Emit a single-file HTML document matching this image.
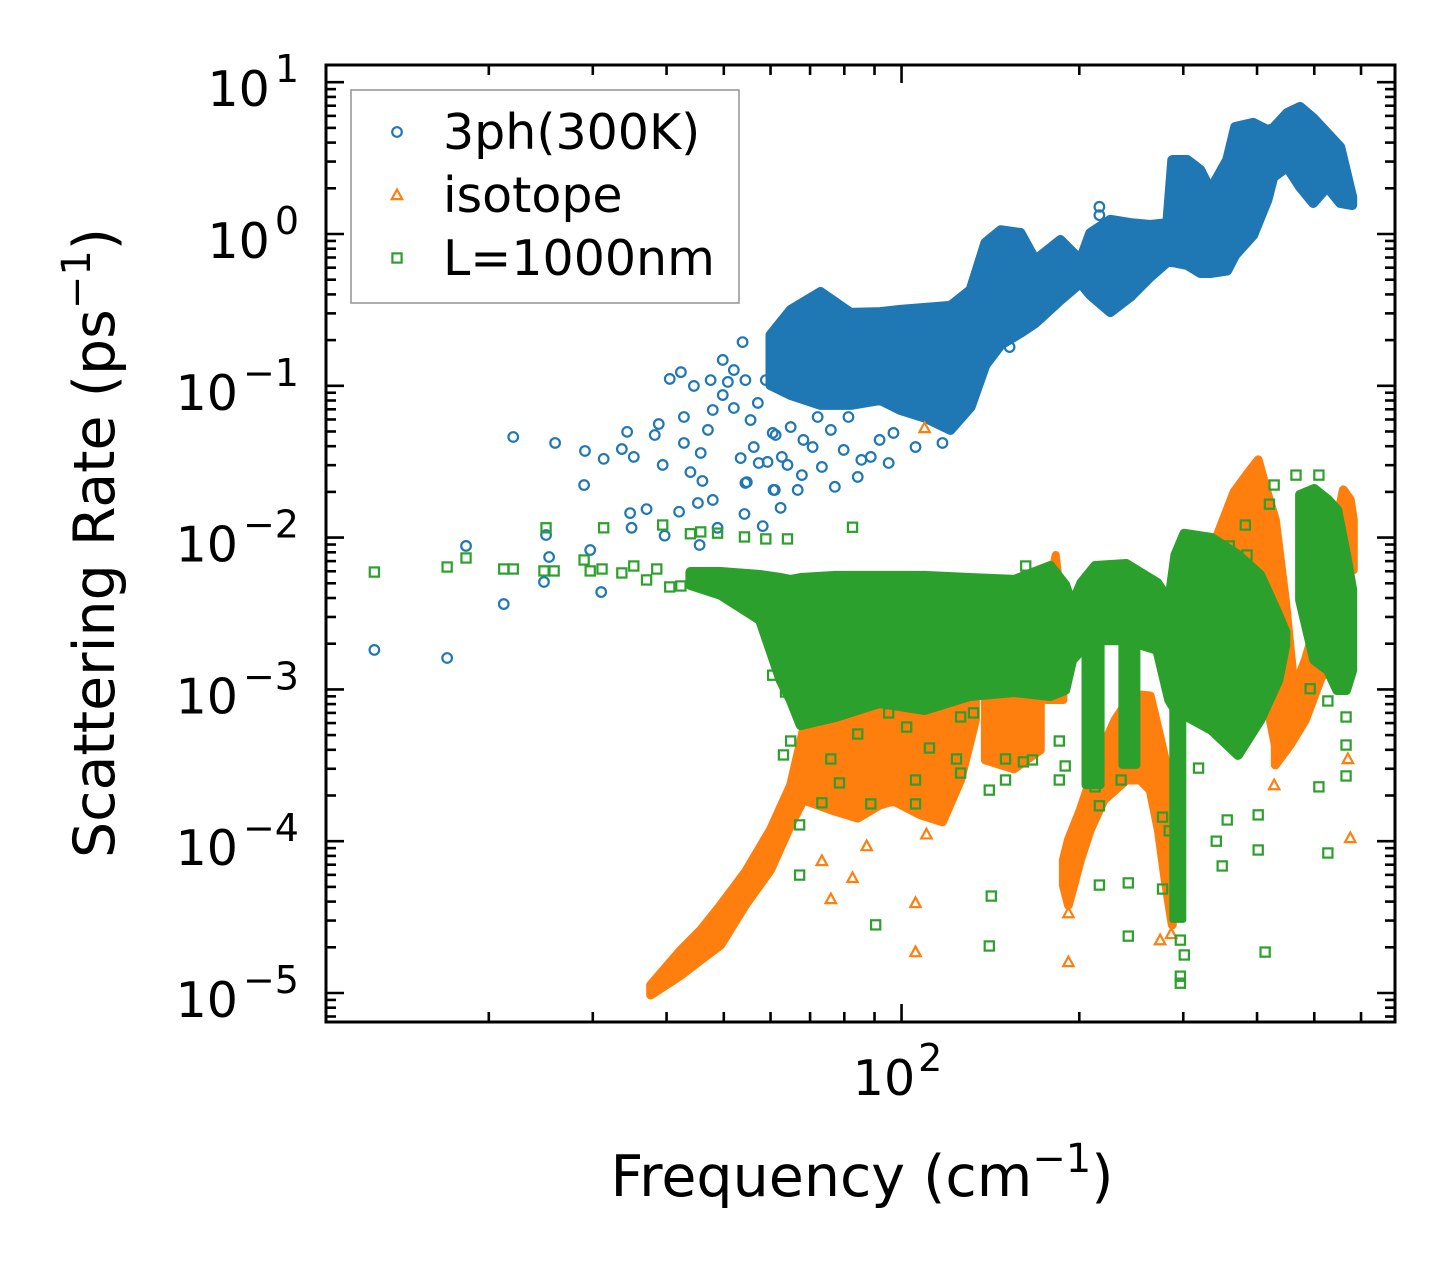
<!DOCTYPE html>
<html><head><meta charset="utf-8"><title>Scattering Rate vs Frequency</title>
<style>
html,body{margin:0;padding:0;background:#fff;}
svg{display:block;font-family:"DejaVu Sans","Liberation Sans",sans-serif;}
</style></head>
<body>
<svg id="chart" width="1455" height="1271" viewBox="0 0 1455 1271" xmlns="http://www.w3.org/2000/svg">
<rect x="0" y="0" width="1455" height="1271" fill="#fff"/>
<defs><clipPath id="plotclip"><rect x="326" y="65" width="1069" height="957"/></clipPath></defs>
<g id="marks" clip-path="url(#plotclip)"></g>
<g id="axes"></g>
<g id="legend"></g>
</svg>
<script>
// ---------- axis domains ----------
const xDomain = [10.6, 685];
const yDomain = [6.44e-6, 12.98];
const yMajorExps = [1, 0, -1, -2, -3, -4, -5];
const xMajorVals = [100];
const xMajorLabels = ["2"];
const xMinorVals = [20,30,40,50,60,70,80,90,200,300,400,500,600];

// ---------- 3ph(300K) dense band ----------
const blueBandF  = [60.0,64.9,72.9,82.0,92.1,99.6,109.8,121.0,130.9,138.7,147.2,159.0,168.5,185.8,200.9,208.8,225.7,243.9,263.7,281.9,287.4,304.7,320.6,333.3,356.1,367.4,394.1,416.3,426.1,450.0,473.2,498.0,525.9,553.2,579.7];
const blueBandHi = [0.216,0.316,0.415,0.302,0.306,0.316,0.326,0.336,0.428,0.873,1.06,1.015,0.674,0.913,0.674,1.015,1.24,1.18,1.146,1.18,3.07,3.07,2.64,1.95,3.07,5.07,5.39,4.84,4.99,6.27,6.87,5.8,4.63,3.74,1.75];
const blueBandLo = [0.101,0.0869,0.0748,0.0748,0.0806,0.0693,0.0614,0.0512,0.0725,0.137,0.186,0.223,0.259,0.367,0.476,0.397,0.306,0.385,0.521,0.654,0.654,0.625,0.553,0.553,0.575,0.727,0.985,1.67,2.37,2.76,2.04,1.60,2.04,1.60,1.55];
// ---------- 3ph(300K) sparse points ----------
const blueF = [12.8,17.0,18.3,21.2,22.0,24.8,25.0,25.3,25.9,29.0,29.1,29.7,31.0,31.3,33.6,34.3,34.7,34.9,35.2,37.0,38.2,38.8,39.4,39.7,40.5,42.0,42.3,42.8,42.8,43.9,44.5,45.2,45.5,45.7,46.0,47.0,47.5,47.9,47.9,48.8,49.8,49.8,50.8,52.0,52.0,53.4,53.8,54.2,54.4,54.7,55.5,56.2,57.1,58.2,58.9,59.3,60.7,61.2,62.4,64.1,66.7,54.4,61.0,67.8,73.3,77.1,84.3,88.7,95.1,96.9,105.6,68.2,62.7,57.3,60.5,64.9,70.7,75.9,81.3,79.8,85.5,91.8,72.1,117.3,130.4,152.4,216.3,216.3];
const blueR = [0.00182,0.00161,0.00881,0.00365,0.0460,0.00510,0.0104,0.00745,0.0420,0.0222,0.0372,0.00828,0.00438,0.0330,0.0383,0.0497,0.0145,0.0116,0.0340,0.0154,0.0474,0.0560,0.0301,0.0103,0.111,0.0148,0.123,0.0623,0.0420,0.0270,0.0998,0.0169,0.00894,0.0361,0.0236,0.0512,0.109,0.0693,0.0177,0.0116,0.148,0.0869,0.106,0.127,0.0714,0.0334,0.194,0.0143,0.109,0.0232,0.0595,0.0395,0.0771,0.0119,0.109,0.0315,0.0206,0.0474,0.0157,0.0301,0.0206,0.0229,0.0206,0.0258,0.0292,0.0216,0.0251,0.0340,0.0310,0.0489,0.0395,0.0440,0.0340,0.0310,0.0489,0.0535,0.0395,0.0512,0.0623,0.0378,0.0325,0.0440,0.0623,0.0420,0.104,0.180,1.51,1.33];

// ---------- isotope bands ----------
const orangeA_F  = [37.6,42.3,45.7,49.4,54.4,60.0,64.9,68.2,75.9,84.3,91.8,96.9,107.7,117.3,125.9,133.4];
const orangeA_Hi = [1.13e-5,1.92e-5,2.60e-5,3.80e-5,6.27e-5,1.19e-4,2.34e-4,5.40e-4,5.82e-4,6.78e-4,7.89e-4,9.91e-4,9.91e-4,1.15e-3,1.34e-3,9.91e-4];
const orangeA_Lo = [0.97e-5,1.31e-5,1.65e-5,2.07e-5,3.80e-5,6.46e-5,1.28e-4,1.87e-4,1.61e-4,1.42e-4,1.73e-4,1.84e-4,1.49e-4,1.34e-4,2.53e-4,6.29e-4];
const orangeA2_F  = [138.7,155.0,171.8];
const orangeA2_Hi = [8.51e-4,8.51e-4,8.51e-4];
const orangeA2_Lo = [3.43e-4,3.0e-4,3.99e-4];
const orangeS_F  = [175.8,182.4,188.0];
const orangeS_Hi = [0.00388,0.00768,0.00286];
const orangeS_Lo = [8.51e-4,8.51e-4,8.51e-4];
const orangeB_F  = [188.0,191.7,200.9,208.8,220.2,230.0,240.2,253.5,263.7,272.2,279.6,287.4];
const orangeB_Hi = [7.52e-5,1.02e-4,1.61e-4,2.53e-4,4.30e-4,6.29e-4,8.13e-4,9.18e-4,9.05e-4,5.40e-4,3.43e-4,1.87e-4];
const orangeB_Lo = [5.14e-5,3.80e-5,7.52e-5,1.19e-4,1.87e-4,2.17e-4,2.53e-4,2.53e-4,2.17e-4,1.19e-4,5.55e-5,2.81e-5];
const orangeC_F  = [294.2,314.1,341.2,365.8,389.6,401.8,414.8,429.5,446.6,458.9];
const orangeC_Hi = [0.00388,0.00712,0.00994,0.0200,0.0279,0.0325,0.0206,0.0131,0.00388,0.00134];
const orangeC_Lo = [9.91e-4,9.91e-4,9.91e-4,9.91e-4,9.18e-4,8.51e-4,8.51e-4,4.30e-4,6.29e-4,8.51e-4];
const orangeD_F  = [429.5,455.0,482.8,511.6,542.0,560.1,575.4,582.1];
const orangeD_Hi = [5.01e-4,8.51e-4,0.00156,0.00334,0.0112,0.0206,0.0177,0.0131];
const orangeD_Lo = [3.18e-4,4.30e-4,6.29e-4,0.00115,0.00182,0.00712,0.00712,0.00612];
// ---------- isotope sparse ----------
const orangeF = [109.4,73.3,75.9,82.6,105.6,105.6,87.3,113.3,110.2,191.7,191.7,193.2,286.2,427.6,575.4,570.0,95.1,274.1];
const orangeR = [0.0527,7.41e-5,4.16e-5,5.73e-5,3.92e-5,1.86e-5,9.29e-5,1.58e-4,1.11e-4,3.36e-5,1.60e-5,5.14e-5,2.45e-5,2.34e-4,1.05e-4,3.48e-4,1.84e-4,2.23e-5];

// ---------- L=1000nm bands ----------
const greenM_F  = [43.9,49.4,57.6,62.4,64.9,67.5,77.3,91.8,109.4,130.4,155.3,178.6,189.3,194.5,201.6,212.7,240.2,271.1,284.0,290.9,301.2,335.0,371.4,404.9,434.5,446.6];
const greenM_Hi = [0.00593,0.00593,0.00567,0.00542,0.00526,0.00542,0.00559,0.00559,0.00559,0.00542,0.00526,0.00650,0.00487,0.00360,0.00502,0.00650,0.00670,0.00502,0.00382,0.00768,0.0106,0.00994,0.00768,0.00567,0.00309,0.00239];
const greenM_Lo = [0.00487,0.00419,0.00286,0.00115,8.51e-4,5.82e-4,6.58e-4,8.13e-4,7.31e-4,9.05e-4,9.61e-4,9.05e-4,9.91e-4,0.00156,0.00182,0.00211,0.00211,0.00182,8.51e-4,7.31e-4,6.78e-4,5.40e-4,3.70e-4,6.29e-4,0.00115,0.00196];
const greenR_F  = [473.2,500.0,527.2,546.8,566.0,579.7];
const greenR_Hi = [0.0191,0.0209,0.0177,0.0152,0.00768,0.00452];
const greenR_Lo = [0.00388,0.00156,0.00134,9.91e-4,9.91e-4,0.00134];
const greenL1_F = [204.9,217.3];   const greenL1_Hi = [0.00211,0.00211]; const greenL1_Lo = [2.34e-4,2.34e-4];
const greenL2_F = [236.6,249.9];   const greenL2_Hi = [0.00211,0.00211]; const greenL2_Lo = [3.18e-4,3.18e-4];
const greenL3_F = [287.4,300.0];   const greenL3_Hi = [8.51e-4,8.51e-4]; const greenL3_Lo = [3.03e-5,3.03e-5];
// ---------- L=1000nm sparse ----------
const greenF = [12.8,17.0,18.3,21.2,22.0,25.0,24.8,25.8,29.0,29.7,31.3,31.1,33.6,35.2,37.0,38.5,39.4,40.5,42.3,43.9,45.7,48.8,54.2,58.9,64.1,59.3,60.5,63.6,63.1,64.9,67.2,67.2,73.3,75.9,78.5,84.3,88.7,90.4,95.1,102.0,105.6,105.6,111.5,125.9,123.9,125.9,132.4,140.8,141.9,140.8,150.0,150.0,160.8,166.6,185.0,185.0,189.3,212.7,216.3,216.3,242.1,242.1,235.4,276.7,276.7,284.0,341.2,349.2,356.1,318.4,401.8,401.8,412.8,527.2,509.1,566.0,566.0,492.0,527.2,566.0,465.6,509.1,427.6,419.8,382.1,359.1,384.7,162.3,82.6,301.2,296.6,296.6,296.6];
const greenR = [0.00593,0.00640,0.00734,0.00621,0.00621,0.0116,0.00603,0.00603,0.00712,0.00603,0.0116,0.00621,0.00585,0.00650,0.00526,0.00621,0.0121,0.00473,0.00480,0.0106,0.0109,0.0107,0.0101,0.00980,0.00980,0.00225,0.00124,9.61e-4,3.70e-4,4.57e-4,1.28e-4,5.98e-5,1.79e-4,3.48e-4,2.42e-4,5.08e-4,1.76e-4,2.81e-5,7.00e-4,5.65e-4,1.76e-4,2.53e-4,4.11e-4,2.81e-4,3.48e-4,6.58e-4,7.00e-4,2.17e-4,4.35e-5,2.04e-5,3.48e-4,2.53e-4,3.33e-4,3.43e-4,4.57e-4,2.53e-4,3.13e-4,2.28e-4,1.71e-4,5.14e-5,5.31e-5,2.37e-5,2.53e-4,1.44e-4,4.84e-5,1.17e-4,1.00e-4,6.87e-5,1.38e-4,3.03e-4,1.49e-4,8.75e-5,1.86e-5,8.36e-5,2.28e-4,2.69e-4,4.30e-4,0.00101,8.39e-4,6.58e-4,0.0258,0.0258,0.0222,0.0166,0.0121,0.00881,0.00768,0.00650,0.0117,1.78e-5,1.29e-5,1.16e-5,2.23e-5];

// ---------- scales ----------
const PX0 = 326, PX1 = 1395, PY0 = 65, PY1 = 1022;
function X(f){ const a=Math.log10(xDomain[0]), b=Math.log10(xDomain[1]); return PX0 + (Math.log10(f)-a)/(b-a)*(PX1-PX0); }
function Y(r){ const a=Math.log10(yDomain[0]), b=Math.log10(yDomain[1]); return PY1 - (Math.log10(r)-a)/(b-a)*(PY1-PY0); }

const NS = "http://www.w3.org/2000/svg";
const BLUE = "#1f77b4", ORANGE = "#ff7f0e", GREEN = "#2ca02c";
const marks = document.getElementById("marks");
const axes = document.getElementById("axes");
const legend = document.getElementById("legend");
function mk(tag, attrs, parent){ const e=document.createElementNS(NS,tag); for(const k in attrs) e.setAttribute(k, attrs[k]); parent.appendChild(e); return e; }

function band(F, Hi, Lo, color, sw, name){
  const pts=[];
  for(let i=0;i<F.length;i++) pts.push(X(F[i]).toFixed(1)+","+Y(Hi[i]).toFixed(1));
  for(let i=F.length-1;i>=0;i--) pts.push(X(F[i]).toFixed(1)+","+Y(Lo[i]).toFixed(1));
  const p = mk("polygon",{points:pts.join(" "),fill:color,stroke:color,"stroke-width":sw,"stroke-linejoin":"round"},marks);
  
  
}
function circle(cx,cy,parent,name){
  const c = mk("circle",{cx:cx,cy:cy,r:4.8,fill:"none",stroke:BLUE,"stroke-width":2.2},parent);
  
  
}
function tri(cx,cy,parent,name){
  const s=5.5;
  const t = mk("polygon",{points:`${cx},${cy-s} ${cx-s*0.95},${cy+s*0.75} ${cx+s*0.95},${cy+s*0.75}`,fill:"none",stroke:ORANGE,"stroke-width":2.2},parent);
  
  
}
function sq(cx,cy,parent,name){
  const s=4.6;
  const q = mk("rect",{x:cx-s,y:cy-s,width:2*s,height:2*s,fill:"none",stroke:GREEN,"stroke-width":2.2},parent);
  
  
}

// blue series
band(blueBandF, blueBandHi, blueBandLo, BLUE, 10, "3ph-dense-band");
for(let i=0;i<blueF.length;i++) circle(X(blueF[i]), Y(blueR[i]), marks, "3ph-point");
// orange series
band(orangeA_F, orangeA_Hi, orangeA_Lo, ORANGE, 9, "isotope-band-a");
band(orangeA2_F, orangeA2_Hi, orangeA2_Lo, ORANGE, 9, "isotope-band-a2");
band(orangeS_F, orangeS_Hi, orangeS_Lo, ORANGE, 8, "isotope-spike");
band(orangeB_F, orangeB_Hi, orangeB_Lo, ORANGE, 9, "isotope-band-b");
band(orangeC_F, orangeC_Hi, orangeC_Lo, ORANGE, 9, "isotope-band-c");
band(orangeD_F, orangeD_Hi, orangeD_Lo, ORANGE, 9, "isotope-band-d");
for(let i=0;i<orangeF.length;i++) tri(X(orangeF[i]), Y(orangeR[i]), marks, "isotope-point");
// green series
band(greenM_F, greenM_Hi, greenM_Lo, GREEN, 10, "boundary-main-band");
band(greenR_F, greenR_Hi, greenR_Lo, GREEN, 10, "boundary-right-band");
band(greenL1_F, greenL1_Hi, greenL1_Lo, GREEN, 8, "boundary-leg-1");
band(greenL2_F, greenL2_Hi, greenL2_Lo, GREEN, 8, "boundary-leg-2");
band(greenL3_F, greenL3_Hi, greenL3_Lo, GREEN, 6, "boundary-leg-3");
for(let i=0;i<greenF.length;i++) sq(X(greenF[i]), Y(greenR[i]), marks, "boundary-point");

// ---------- axes frame ----------
const frame = mk("rect",{x:PX0,y:PY0,width:PX1-PX0,height:PY1-PY0,fill:"none",stroke:"#000","stroke-width":3},axes);



function tickLine(x1,y1,x2,y2,name){
  const l = mk("line",{x1:x1,y1:y1,x2:x2,y2:y2,stroke:"#000","stroke-width":2.6},axes);
  
  
}
// y ticks
for(const e of yMajorExps){
  const y = Y(Math.pow(10,e));
  tickLine(PX0,y,PX0+18,y,"y-major-tick");
  tickLine(PX1,y,PX1-18,y,"y-major-tick");
  const t = mk("text",{x:299,y:y+24,"text-anchor":"end","font-size":49,fill:"#000"},axes);
  
  
  t.appendChild(document.createTextNode("10"));
  const s = document.createElementNS(NS,"tspan");
  s.setAttribute("dy","-24"); s.setAttribute("dx","5"); s.setAttribute("font-size","38");
  s.textContent = e<0 ? "\u2212"+(-e) : String(e);
  t.appendChild(s);
  for(let m=2;m<=9;m++){
    const v = m*Math.pow(10,e-1);
    if(v<yDomain[0]||v>yDomain[1]) continue;
    const yy=Y(v);
    tickLine(PX0,yy,PX0+10,yy,"y-minor-tick");
    tickLine(PX1,yy,PX1-10,yy,"y-minor-tick");
  }
}
for(let m=2;m<=9;m++){ const v=m*10; if(v<=yDomain[1]){ const yy=Y(v); tickLine(PX0,yy,PX0+10,yy,"y-minor-tick"); tickLine(PX1,yy,PX1-10,yy,"y-minor-tick"); } }
// x ticks
for(let i=0;i<xMajorVals.length;i++){
  const x = X(xMajorVals[i]);
  tickLine(x,PY1,x,PY1-18,"x-major-tick");
  tickLine(x,PY0,x,PY0+18,"x-major-tick");
  const t = mk("text",{x:x-4,y:1095,"text-anchor":"middle","font-size":49,fill:"#000"},axes);
  
  
  t.appendChild(document.createTextNode("10"));
  const s = document.createElementNS(NS,"tspan");
  s.setAttribute("dy","-24"); s.setAttribute("dx","3"); s.setAttribute("font-size","38");
  s.textContent = xMajorLabels[i];
  t.appendChild(s);
}
for(const v of xMinorVals){
  const x = X(v);
  tickLine(x,PY1,x,PY1-10,"x-minor-tick");
  tickLine(x,PY0,x,PY0+10,"x-minor-tick");
}
// axis titles
const xt = mk("text",{x:862,y:1196,"text-anchor":"middle","font-size":57,fill:"#000"},axes);


xt.innerHTML = 'Frequency (cm<tspan dy="-24" font-size="40">\u22121</tspan><tspan dy="24">)</tspan>';
const yt = mk("text",{x:0,y:0,"text-anchor":"middle","font-size":57,fill:"#000",transform:"translate(114,543) rotate(-90)"},axes);


yt.innerHTML = 'Scattering Rate (ps<tspan dy="-24" font-size="40">\u22121</tspan><tspan dy="24">)</tspan>';

// ---------- legend ----------
const lb = mk("rect",{x:351,y:90,width:388,height:213,fill:"#fff","fill-opacity":0.8,stroke:"#999","stroke-width":1.6},legend);


const legendLabels = ["3ph(300K)","isotope","L=1000nm"];
const legendY = [132,195,258];
const drawers = [circle, tri, sq];
for(let i=0;i<3;i++){
  drawers[i](397, legendY[i], legend, "legend-marker");
  const t = mk("text",{x:443,y:legendY[i]+17,"font-size":49,fill:"#000"},legend);
  
  
  t.textContent = legendLabels[i];
}
</script>
</body></html>
